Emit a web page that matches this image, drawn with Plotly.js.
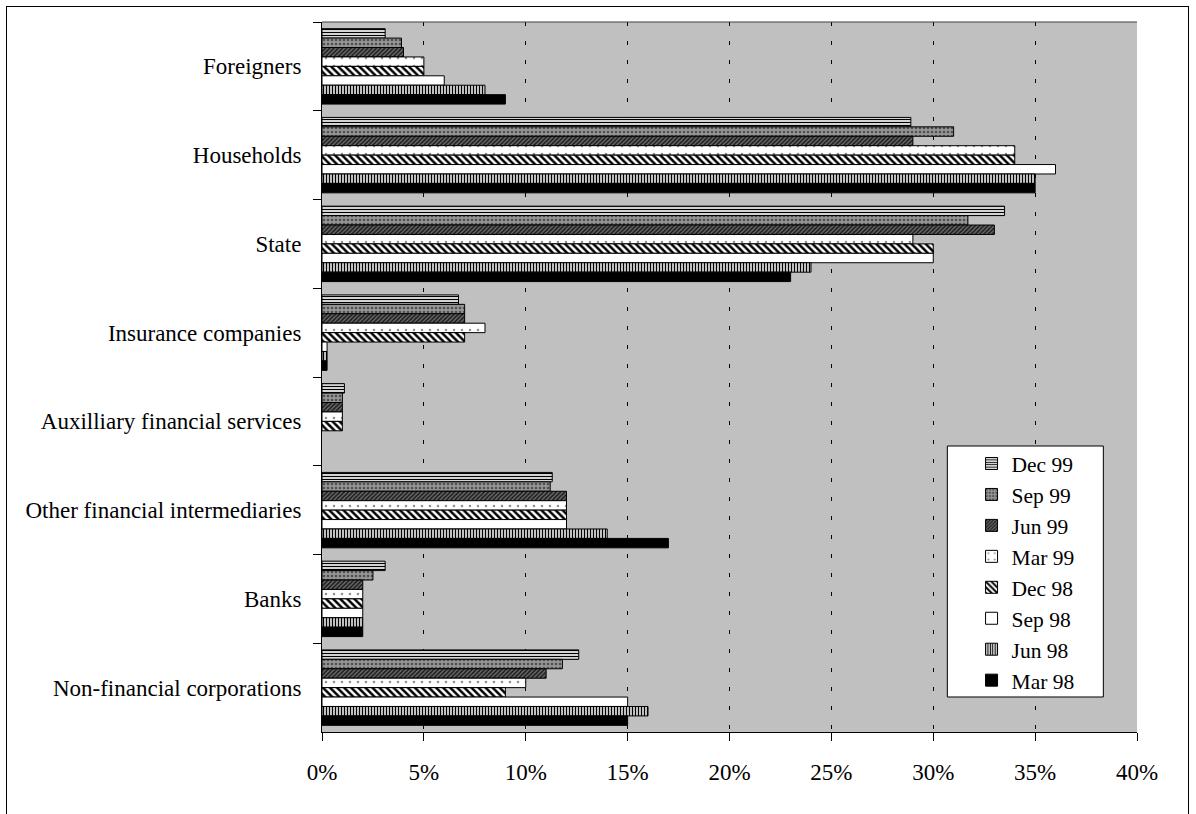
<!DOCTYPE html>
<html>
<head>
<meta charset="utf-8">
<script src="https://cdn.plot.ly/plotly-3.0.1.min.js"></script>
<style>
  html, body { margin: 0; padding: 0; background: #ffffff; }
  #wrap { position: relative; width: 1196px; height: 814px; overflow: hidden; }
  #frame { position: absolute; left: 6px; top: 6px; width: 1183px; height: 820px;
           border: 1px solid #000; box-sizing: border-box; pointer-events: none; z-index: 5; }
  #chart { position: absolute; left: 0; top: 0; width: 1196px; height: 814px; }
</style>
</head>
<body>
<div id="wrap">
  <div id="chart"></div>
  <div id="frame"></div>
</div>
<script>
// Holders of shares, share of total (%), listed top to bottom
const categories = [
  'Foreigners',
  'Households',
  'State',
  'Insurance companies',
  'Auxilliary financial services',
  'Other financial intermediaries',
  'Banks',
  'Non-financial corporations'
];

const periods = ['Dec 99', 'Sep 99', 'Jun 99', 'Mar 99', 'Dec 98', 'Sep 98', 'Jun 98', 'Mar 98'];

const dec99 = [3.1, 28.9, 33.5, 6.7, 1.1, 11.3, 3.1, 12.6];
const sep99 = [3.9, 31.0, 31.7, 7.0, 1.0, 11.2, 2.5, 11.8];
const jun99 = [4.0, 29.0, 33.0, 7.0, 1.0, 12.0, 2.0, 11.0];
const mar99 = [5.0, 34.0, 29.0, 8.0, 1.0, 12.0, 2.0, 10.0];
const dec98 = [5.0, 34.0, 30.0, 7.0, 1.0, 12.0, 2.0, 9.0];
const sep98 = [6.0, 36.0, 30.0, 0.25, null, 12.0, 2.0, 15.0];
const jun98 = [8.0, 35.0, 24.0, 0.25, null, 14.0, 2.0, 16.0];
const mar98 = [9.0, 35.0, 23.0, 0.25, null, 17.0, 2.0, 15.0];

const seriesValues = [dec99, sep99, jun99, mar99, dec98, sep98, jun98, mar98];

// Fill style for each period (monochrome hatching)
const fills = [
  { shape: '-',  bg: '#ffffff', fg: '#000000', size: 3, solidity: 0.45 },
  { shape: '.',  bg: '#969696', fg: '#505050', size: 4, solidity: 0.35 },
  { shape: '/',  bg: '#6a6a6a', fg: '#1a1a1a', size: 3, solidity: 0.5 },
  { shape: '.',  bg: '#ffffff', fg: '#909090', size: 8, solidity: 0.08 },
  { shape: '\\', bg: '#ffffff', fg: '#000000', size: 5, solidity: 0.5 },
  { shape: '',   bg: '#ffffff', fg: '#000000', size: 4, solidity: 0.3 },
  { shape: '|',  bg: '#ffffff', fg: '#000000', size: 3, solidity: 0.5 },
  { shape: '',   bg: '#000000', fg: '#000000', size: 4, solidity: 0.3 }
];

const traces = periods.map((name, i) => ({
  type: 'bar',
  orientation: 'h',
  name: name,
  y: categories,
  x: seriesValues[i],
  marker: {
    color: fills[i].bg,
    line: { color: '#000000', width: 1 },
    pattern: {
      shape: fills[i].shape,
      bgcolor: fills[i].bg,
      fgcolor: fills[i].fg,
      size: fills[i].size,
      solidity: fills[i].solidity,
      fillmode: 'replace'
    }
  },
  hoverinfo: 'x+y+name'
}));

const serif = 'Liberation Serif, Times New Roman, serif';

const layout = {
  width: 1196,
  height: 814,
  margin: { l: 322, r: 59, t: 22, b: 82 },
  paper_bgcolor: 'rgba(0,0,0,0)',
  plot_bgcolor: '#c0c0c0',
  barmode: 'group',
  bargap: 0.15,
  bargroupgap: 0,
  font: { family: serif, size: 22, color: '#000000' },
  showlegend: true,
  // legend entries sit inside the framed white box drawn in shapes below
  legend: {
    x: 0.797, y: 0.407, xanchor: 'left', yanchor: 'top',
    bgcolor: 'rgba(0,0,0,0)', borderwidth: 0,
    font: { family: serif, size: 21.5, color: '#000000' },
    traceorder: 'normal',
    itemwidth: 30
  },
  xaxis: {
    range: [0, 40],
    dtick: 5,
    tick0: 0,
    ticksuffix: '%',
    showgrid: true,
    gridcolor: '#000000',
    gridwidth: 1,
    griddash: '4px,15px',
    zeroline: false,
    showline: true,
    linecolor: '#000000',
    linewidth: 1,
    ticks: 'outside',
    ticklen: 8,
    tickcolor: '#000000',
    ticklabelstandoff: 11,
    tickfont: { family: serif, size: 23, color: '#000000' },
    fixedrange: true
  },
  yaxis: {
    type: 'category',
    autorange: 'reversed',
    showgrid: false,
    zeroline: false,
    showline: true,
    linecolor: '#000000',
    linewidth: 1,
    ticks: 'outside',
    tickson: 'boundaries',
    ticklen: 8,
    tickcolor: '#000000',
    ticklabelstandoff: 15,
    tickfont: { family: serif, size: 23, color: '#000000' },
    fixedrange: true
  },
  shapes: [
    // thin edge along the top of the plotting area
    { type: 'line', xref: 'paper', yref: 'paper', x0: 0, x1: 1, y0: 1, y1: 1,
      line: { color: '#404040', width: 1 }, layer: 'above' },
    // legend box
    { type: 'rect', xref: 'paper', yref: 'paper', x0: 0.7673, x1: 0.9587, y0: 0.0493, y1: 0.4028,
      fillcolor: '#ffffff', line: { color: '#000000', width: 1 }, layer: 'above' }
  ]
};

Plotly.newPlot('chart', traces, layout, { displayModeBar: false, staticPlot: true });
</script>
</body>
</html>
